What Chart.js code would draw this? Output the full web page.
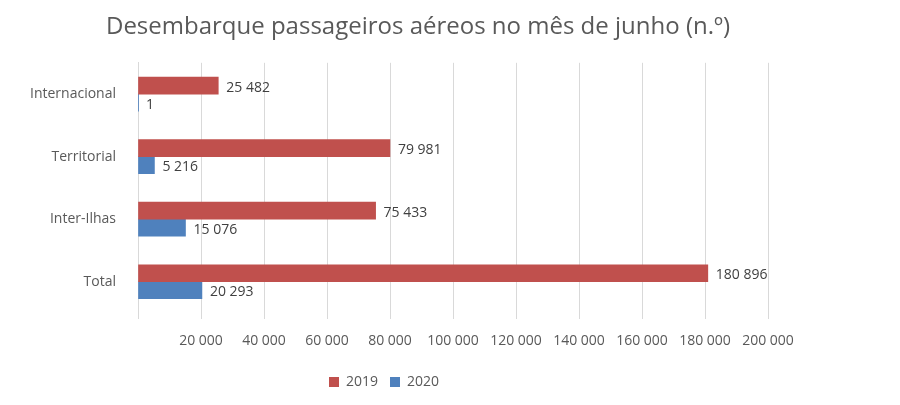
<!DOCTYPE html>
<html><head><meta charset="utf-8">
<script src="https://cdn.jsdelivr.net/npm/chart.js@4"></script>
<style>body{margin:0;background:#fff}#w{width:900px;height:405px}</style>
</head><body><div id="w"><canvas id="c"></canvas></div>
<script>
const categories = ["Internacional","Territorial","Inter-Ilhas","Total"];
const values2019 = [25482, 79981, 75433, 180896];
const values2020 = [1, 5216, 15076, 20293];
const xTicksMax = 200000, xTicksStep = 20000;
const titleText = 'Desembarque passageiros aéreos no mês de junho (n.º)';
const fmt = v => String(v).replace(/\B(?=(\d{3})+(?!\d))/g, ' ');
const FONT = "'Open Sans', 'Liberation Sans', sans-serif";
const labelPlugin = {
  id: 'lbl',
  afterDatasetsDraw(chart) {
    const ctx = chart.ctx;
    ctx.save();
    ctx.font = "14px " + FONT;
    ctx.fillStyle = '#404040';
    ctx.textBaseline = 'middle';
    chart.data.datasets.forEach((ds, i) => {
      chart.getDatasetMeta(i).data.forEach((bar, j) => {
        ctx.fillText(fmt(ds.data[j]), bar.x + 8, bar.y + 2);
      });
    });
    ctx.textAlign = 'center';
    ctx.textBaseline = 'alphabetic';
    ctx.fillStyle = '#595959';
    ctx.font = "24px " + FONT;
    ctx.fillText(titleText, 418, 34);
    ctx.restore();
  }
};
new Chart(document.getElementById('c'), {
  type: 'bar',
  data: {
    labels: categories,
    datasets: [
      {label: '2019', data: values2019, backgroundColor: '#C0504D', barThickness: 17},
      {label: '2020', data: values2020, backgroundColor: '#4F81BD', barThickness: 17}
    ]
  },
  plugins: [labelPlugin],
  options: {
    indexAxis: 'y',
    animation: false,
    responsive: true,
    maintainAspectRatio: false,
    layout: {padding: {left: 0, right: 132, top: 0, bottom: 6}},
    plugins: {
      title: {display: true, text: titleText,
        color: 'rgba(0,0,0,0)', font: {family: FONT, size: 24, weight: 'normal'}, padding: {top: 10, bottom: 24}},
      legend: {position: 'bottom', labels: {boxWidth: 10, boxHeight: 10, color: '#595959',
        font: {family: FONT, size: 14}, padding: 12}},
      tooltip: {enabled: false}
    },
    scales: {
      x: {
        min: 0, max: xTicksMax,
        ticks: {stepSize: xTicksStep, color: '#595959', font: {family: FONT, size: 14}, padding: 14,
          callback: v => v === 0 ? '' : fmt(v), maxRotation: 0},
        grid: {color: '#d9d9d9', drawTicks: true, tickLength: 6},
        border: {display: false},
        afterFit: s => { s.height = 50; }
      },
      y: {
        ticks: {color: '#595959', font: {family: FONT, size: 14}, padding: 14},
        grid: {display: false},
        border: {color: '#d9d9d9'},
        afterFit: s => { s.width = 138; }
      }
    }
  }
});
</script></body></html>
